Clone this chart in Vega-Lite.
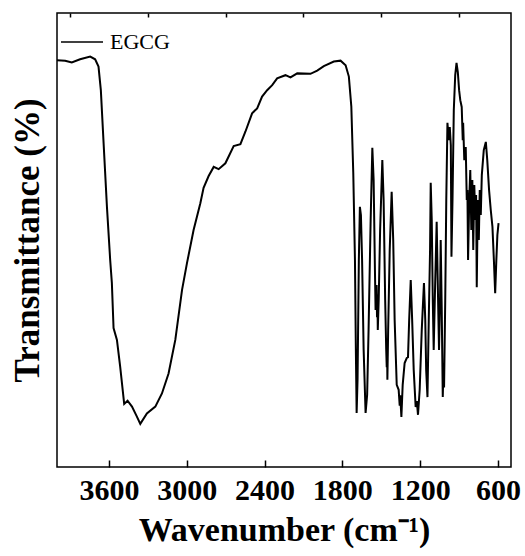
{
  "$schema": "https://vega.github.io/schema/vega-lite/v6.json",
  "width": 454,
  "height": 454,
  "autosize": {"type": "none"},
  "padding": {"left": 57, "top": 13, "right": 14, "bottom": 89},
  "background": "white",
  "config": {
    "view": {"stroke": "black", "strokeWidth": 1.5},
    "font": "Liberation Serif"
  },
  "data": {
    "values": [
      {"wavenumber": 4000, "transmittance": 89.6},
      {"wavenumber": 3937, "transmittance": 89.5},
      {"wavenumber": 3886, "transmittance": 89.1},
      {"wavenumber": 3822, "transmittance": 89.8},
      {"wavenumber": 3744, "transmittance": 90.4},
      {"wavenumber": 3706, "transmittance": 89.8},
      {"wavenumber": 3680, "transmittance": 88.2},
      {"wavenumber": 3662, "transmittance": 83.0},
      {"wavenumber": 3642, "transmittance": 72.0},
      {"wavenumber": 3615, "transmittance": 57.3},
      {"wavenumber": 3590, "transmittance": 45.6},
      {"wavenumber": 3577, "transmittance": 40.5},
      {"wavenumber": 3564, "transmittance": 30.6},
      {"wavenumber": 3538, "transmittance": 28.0},
      {"wavenumber": 3513, "transmittance": 22.1},
      {"wavenumber": 3482, "transmittance": 13.9},
      {"wavenumber": 3456, "transmittance": 14.6},
      {"wavenumber": 3422, "transmittance": 13.3},
      {"wavenumber": 3384, "transmittance": 11.1},
      {"wavenumber": 3358, "transmittance": 9.5},
      {"wavenumber": 3307, "transmittance": 11.8},
      {"wavenumber": 3242, "transmittance": 13.3},
      {"wavenumber": 3191, "transmittance": 16.2},
      {"wavenumber": 3140, "transmittance": 20.6},
      {"wavenumber": 3088, "transmittance": 28.0},
      {"wavenumber": 3036, "transmittance": 39.0},
      {"wavenumber": 2998, "transmittance": 44.9},
      {"wavenumber": 2947, "transmittance": 52.2},
      {"wavenumber": 2895, "transmittance": 58.1},
      {"wavenumber": 2870, "transmittance": 61.5},
      {"wavenumber": 2831, "transmittance": 64.1},
      {"wavenumber": 2792, "transmittance": 66.1},
      {"wavenumber": 2754, "transmittance": 65.6},
      {"wavenumber": 2702, "transmittance": 66.9},
      {"wavenumber": 2638, "transmittance": 70.7},
      {"wavenumber": 2586, "transmittance": 71.1},
      {"wavenumber": 2547, "transmittance": 73.9},
      {"wavenumber": 2496, "transmittance": 77.9},
      {"wavenumber": 2457, "transmittance": 79.0},
      {"wavenumber": 2419, "transmittance": 81.6},
      {"wavenumber": 2380, "transmittance": 83.0},
      {"wavenumber": 2341, "transmittance": 84.1},
      {"wavenumber": 2303, "transmittance": 85.6},
      {"wavenumber": 2239, "transmittance": 86.3},
      {"wavenumber": 2200, "transmittance": 85.8},
      {"wavenumber": 2148, "transmittance": 86.7},
      {"wavenumber": 2046, "transmittance": 86.6},
      {"wavenumber": 1994, "transmittance": 87.3},
      {"wavenumber": 1943, "transmittance": 88.3},
      {"wavenumber": 1866, "transmittance": 89.3},
      {"wavenumber": 1814, "transmittance": 89.5},
      {"wavenumber": 1775, "transmittance": 88.5},
      {"wavenumber": 1750, "transmittance": 86.0},
      {"wavenumber": 1731, "transmittance": 79.4},
      {"wavenumber": 1716, "transmittance": 64.8},
      {"wavenumber": 1703, "transmittance": 45.6},
      {"wavenumber": 1696, "transmittance": 25.8},
      {"wavenumber": 1690, "transmittance": 11.9},
      {"wavenumber": 1683, "transmittance": 19.2},
      {"wavenumber": 1673, "transmittance": 45.6},
      {"wavenumber": 1665, "transmittance": 57.3},
      {"wavenumber": 1657, "transmittance": 55.5},
      {"wavenumber": 1648, "transmittance": 45.6},
      {"wavenumber": 1636, "transmittance": 25.8},
      {"wavenumber": 1621, "transmittance": 11.9},
      {"wavenumber": 1609, "transmittance": 15.9},
      {"wavenumber": 1598, "transmittance": 30.2},
      {"wavenumber": 1582, "transmittance": 54.4},
      {"wavenumber": 1569, "transmittance": 70.3},
      {"wavenumber": 1559, "transmittance": 63.2},
      {"wavenumber": 1549, "transmittance": 43.4},
      {"wavenumber": 1544, "transmittance": 34.6},
      {"wavenumber": 1536, "transmittance": 40.1},
      {"wavenumber": 1533, "transmittance": 33.0},
      {"wavenumber": 1530, "transmittance": 38.0},
      {"wavenumber": 1527, "transmittance": 30.2},
      {"wavenumber": 1520, "transmittance": 36.8},
      {"wavenumber": 1509, "transmittance": 52.2},
      {"wavenumber": 1492, "transmittance": 67.6},
      {"wavenumber": 1482, "transmittance": 58.8},
      {"wavenumber": 1470, "transmittance": 36.8},
      {"wavenumber": 1462, "transmittance": 25.8},
      {"wavenumber": 1458, "transmittance": 22.0},
      {"wavenumber": 1455, "transmittance": 26.0},
      {"wavenumber": 1453, "transmittance": 19.2},
      {"wavenumber": 1447, "transmittance": 30.2},
      {"wavenumber": 1435, "transmittance": 47.8},
      {"wavenumber": 1420, "transmittance": 60.6},
      {"wavenumber": 1408, "transmittance": 50.0},
      {"wavenumber": 1397, "transmittance": 32.4},
      {"wavenumber": 1381, "transmittance": 18.1},
      {"wavenumber": 1366, "transmittance": 17.0},
      {"wavenumber": 1358, "transmittance": 13.5},
      {"wavenumber": 1354, "transmittance": 15.8},
      {"wavenumber": 1345, "transmittance": 11.0},
      {"wavenumber": 1335, "transmittance": 18.1},
      {"wavenumber": 1320, "transmittance": 22.9},
      {"wavenumber": 1304, "transmittance": 24.0},
      {"wavenumber": 1294, "transmittance": 24.2},
      {"wavenumber": 1285, "transmittance": 32.4},
      {"wavenumber": 1273, "transmittance": 41.2},
      {"wavenumber": 1262, "transmittance": 32.4},
      {"wavenumber": 1250, "transmittance": 21.4},
      {"wavenumber": 1235, "transmittance": 13.2},
      {"wavenumber": 1226, "transmittance": 14.5},
      {"wavenumber": 1217, "transmittance": 11.5},
      {"wavenumber": 1204, "transmittance": 17.0},
      {"wavenumber": 1188, "transmittance": 30.2},
      {"wavenumber": 1171, "transmittance": 40.5},
      {"wavenumber": 1161, "transmittance": 32.4},
      {"wavenumber": 1154, "transmittance": 21.4},
      {"wavenumber": 1144, "transmittance": 15.4},
      {"wavenumber": 1134, "transmittance": 32.4},
      {"wavenumber": 1124, "transmittance": 47.8},
      {"wavenumber": 1119, "transmittance": 62.6},
      {"wavenumber": 1111, "transmittance": 54.4},
      {"wavenumber": 1103, "transmittance": 36.8},
      {"wavenumber": 1096, "transmittance": 25.8},
      {"wavenumber": 1084, "transmittance": 41.2},
      {"wavenumber": 1073, "transmittance": 54.0},
      {"wavenumber": 1065, "transmittance": 41.2},
      {"wavenumber": 1055, "transmittance": 25.8},
      {"wavenumber": 1047, "transmittance": 36.8},
      {"wavenumber": 1042, "transmittance": 50.0},
      {"wavenumber": 1034, "transmittance": 34.6},
      {"wavenumber": 1026, "transmittance": 15.4},
      {"wavenumber": 1020, "transmittance": 22.5},
      {"wavenumber": 1016, "transmittance": 17.5},
      {"wavenumber": 1007, "transmittance": 36.8},
      {"wavenumber": 999, "transmittance": 58.8},
      {"wavenumber": 990, "transmittance": 75.8},
      {"wavenumber": 980, "transmittance": 72.0},
      {"wavenumber": 972, "transmittance": 74.9},
      {"wavenumber": 964, "transmittance": 70.9},
      {"wavenumber": 959, "transmittance": 46.3},
      {"wavenumber": 951, "transmittance": 58.8},
      {"wavenumber": 941, "transmittance": 78.6},
      {"wavenumber": 930, "transmittance": 86.3},
      {"wavenumber": 920, "transmittance": 89.0},
      {"wavenumber": 910, "transmittance": 87.0},
      {"wavenumber": 900, "transmittance": 83.0},
      {"wavenumber": 891, "transmittance": 80.8},
      {"wavenumber": 880, "transmittance": 79.3},
      {"wavenumber": 872, "transmittance": 72.0},
      {"wavenumber": 869, "transmittance": 75.8},
      {"wavenumber": 860, "transmittance": 67.6},
      {"wavenumber": 849, "transmittance": 70.5},
      {"wavenumber": 841, "transmittance": 58.8},
      {"wavenumber": 836, "transmittance": 61.0},
      {"wavenumber": 831, "transmittance": 45.6},
      {"wavenumber": 822, "transmittance": 58.8},
      {"wavenumber": 814, "transmittance": 65.4},
      {"wavenumber": 806, "transmittance": 52.2},
      {"wavenumber": 798, "transmittance": 63.2},
      {"wavenumber": 791, "transmittance": 47.8},
      {"wavenumber": 783, "transmittance": 62.1},
      {"wavenumber": 775, "transmittance": 54.4},
      {"wavenumber": 769, "transmittance": 59.9},
      {"wavenumber": 764, "transmittance": 39.6},
      {"wavenumber": 756, "transmittance": 58.8},
      {"wavenumber": 748, "transmittance": 50.0},
      {"wavenumber": 741, "transmittance": 61.0},
      {"wavenumber": 733, "transmittance": 55.5},
      {"wavenumber": 725, "transmittance": 64.3},
      {"wavenumber": 710, "transmittance": 69.8},
      {"wavenumber": 694, "transmittance": 71.6},
      {"wavenumber": 683, "transmittance": 67.6},
      {"wavenumber": 669, "transmittance": 61.0},
      {"wavenumber": 656, "transmittance": 56.6},
      {"wavenumber": 643, "transmittance": 52.9},
      {"wavenumber": 632, "transmittance": 45.6},
      {"wavenumber": 622, "transmittance": 38.3},
      {"wavenumber": 613, "transmittance": 45.6},
      {"wavenumber": 605, "transmittance": 51.1},
      {"wavenumber": 596, "transmittance": 53.7}
    ]
  },
  "layer": [
    {
      "mark": {"type": "line", "strokeWidth": 2, "interpolate": "linear"},
      "encoding": {
        "x": {
          "field": "wavenumber",
          "type": "quantitative",
          "scale": {"domain": [500, 4000], "reverse": true, "nice": false, "zero": false},
          "axis": {
            "values": [3600, 3000, 2400, 1800, 1200, 600],
            "format": "d",
            "tickSize": -7,
            "tickWidth": 1.5,
            "tickColor": "black",
            "domain": false,
            "grid": false,
            "labelFlush": false,
            "labelFont": "Liberation Serif",
            "labelFontSize": 30,
            "labelFontWeight": "bold",
            "labelColor": "black",
            "labelPadding": 15,
            "title": "Wavenumber (cm⁻¹)",
            "titleFont": "Liberation Serif",
            "titleFontSize": 34,
            "titleFontWeight": "bold",
            "titleColor": "black",
            "titlePadding": 8
          }
        },
        "y": {
          "field": "transmittance",
          "type": "quantitative",
          "scale": {"domain": [0, 100], "nice": false},
          "axis": {
            "labels": false,
            "ticks": false,
            "domain": false,
            "grid": false,
            "title": "Transmittance (%)",
            "titleFont": "Liberation Serif",
            "titleFontSize": 35,
            "titleFontWeight": "bold",
            "titleColor": "black",
            "titlePadding": 12
          }
        },
        "color": {
          "datum": "EGCG",
          "type": "nominal",
          "scale": {"range": ["black"]},
          "legend": {
            "title": null,
            "orient": "none",
            "legendX": 3,
            "legendY": 7,
            "padding": 0,
            "symbolType": "stroke",
            "symbolSize": 1764,
            "symbolStrokeWidth": 1.5,
            "symbolStrokeColor": "black",
            "labelFont": "Liberation Serif",
            "labelFontSize": 22,
            "labelColor": "black",
            "labelOffset": 6
          }
        }
      }
    },
    {
      "mark": {"type": "line", "opacity": 0},
      "encoding": {
        "x": {
          "field": "wavenumber",
          "type": "quantitative",
          "axis": {
            "values": [3900, 3300, 2700, 2100, 1500, 900],
            "tickSize": -4,
            "tickWidth": 1.5,
            "tickColor": "black",
            "labels": false,
            "domain": false,
            "grid": false,
            "title": null
          }
        },
        "y": {"field": "transmittance", "type": "quantitative"}
      }
    }
  ],
  "resolve": {"axis": {"x": "independent"}}
}
